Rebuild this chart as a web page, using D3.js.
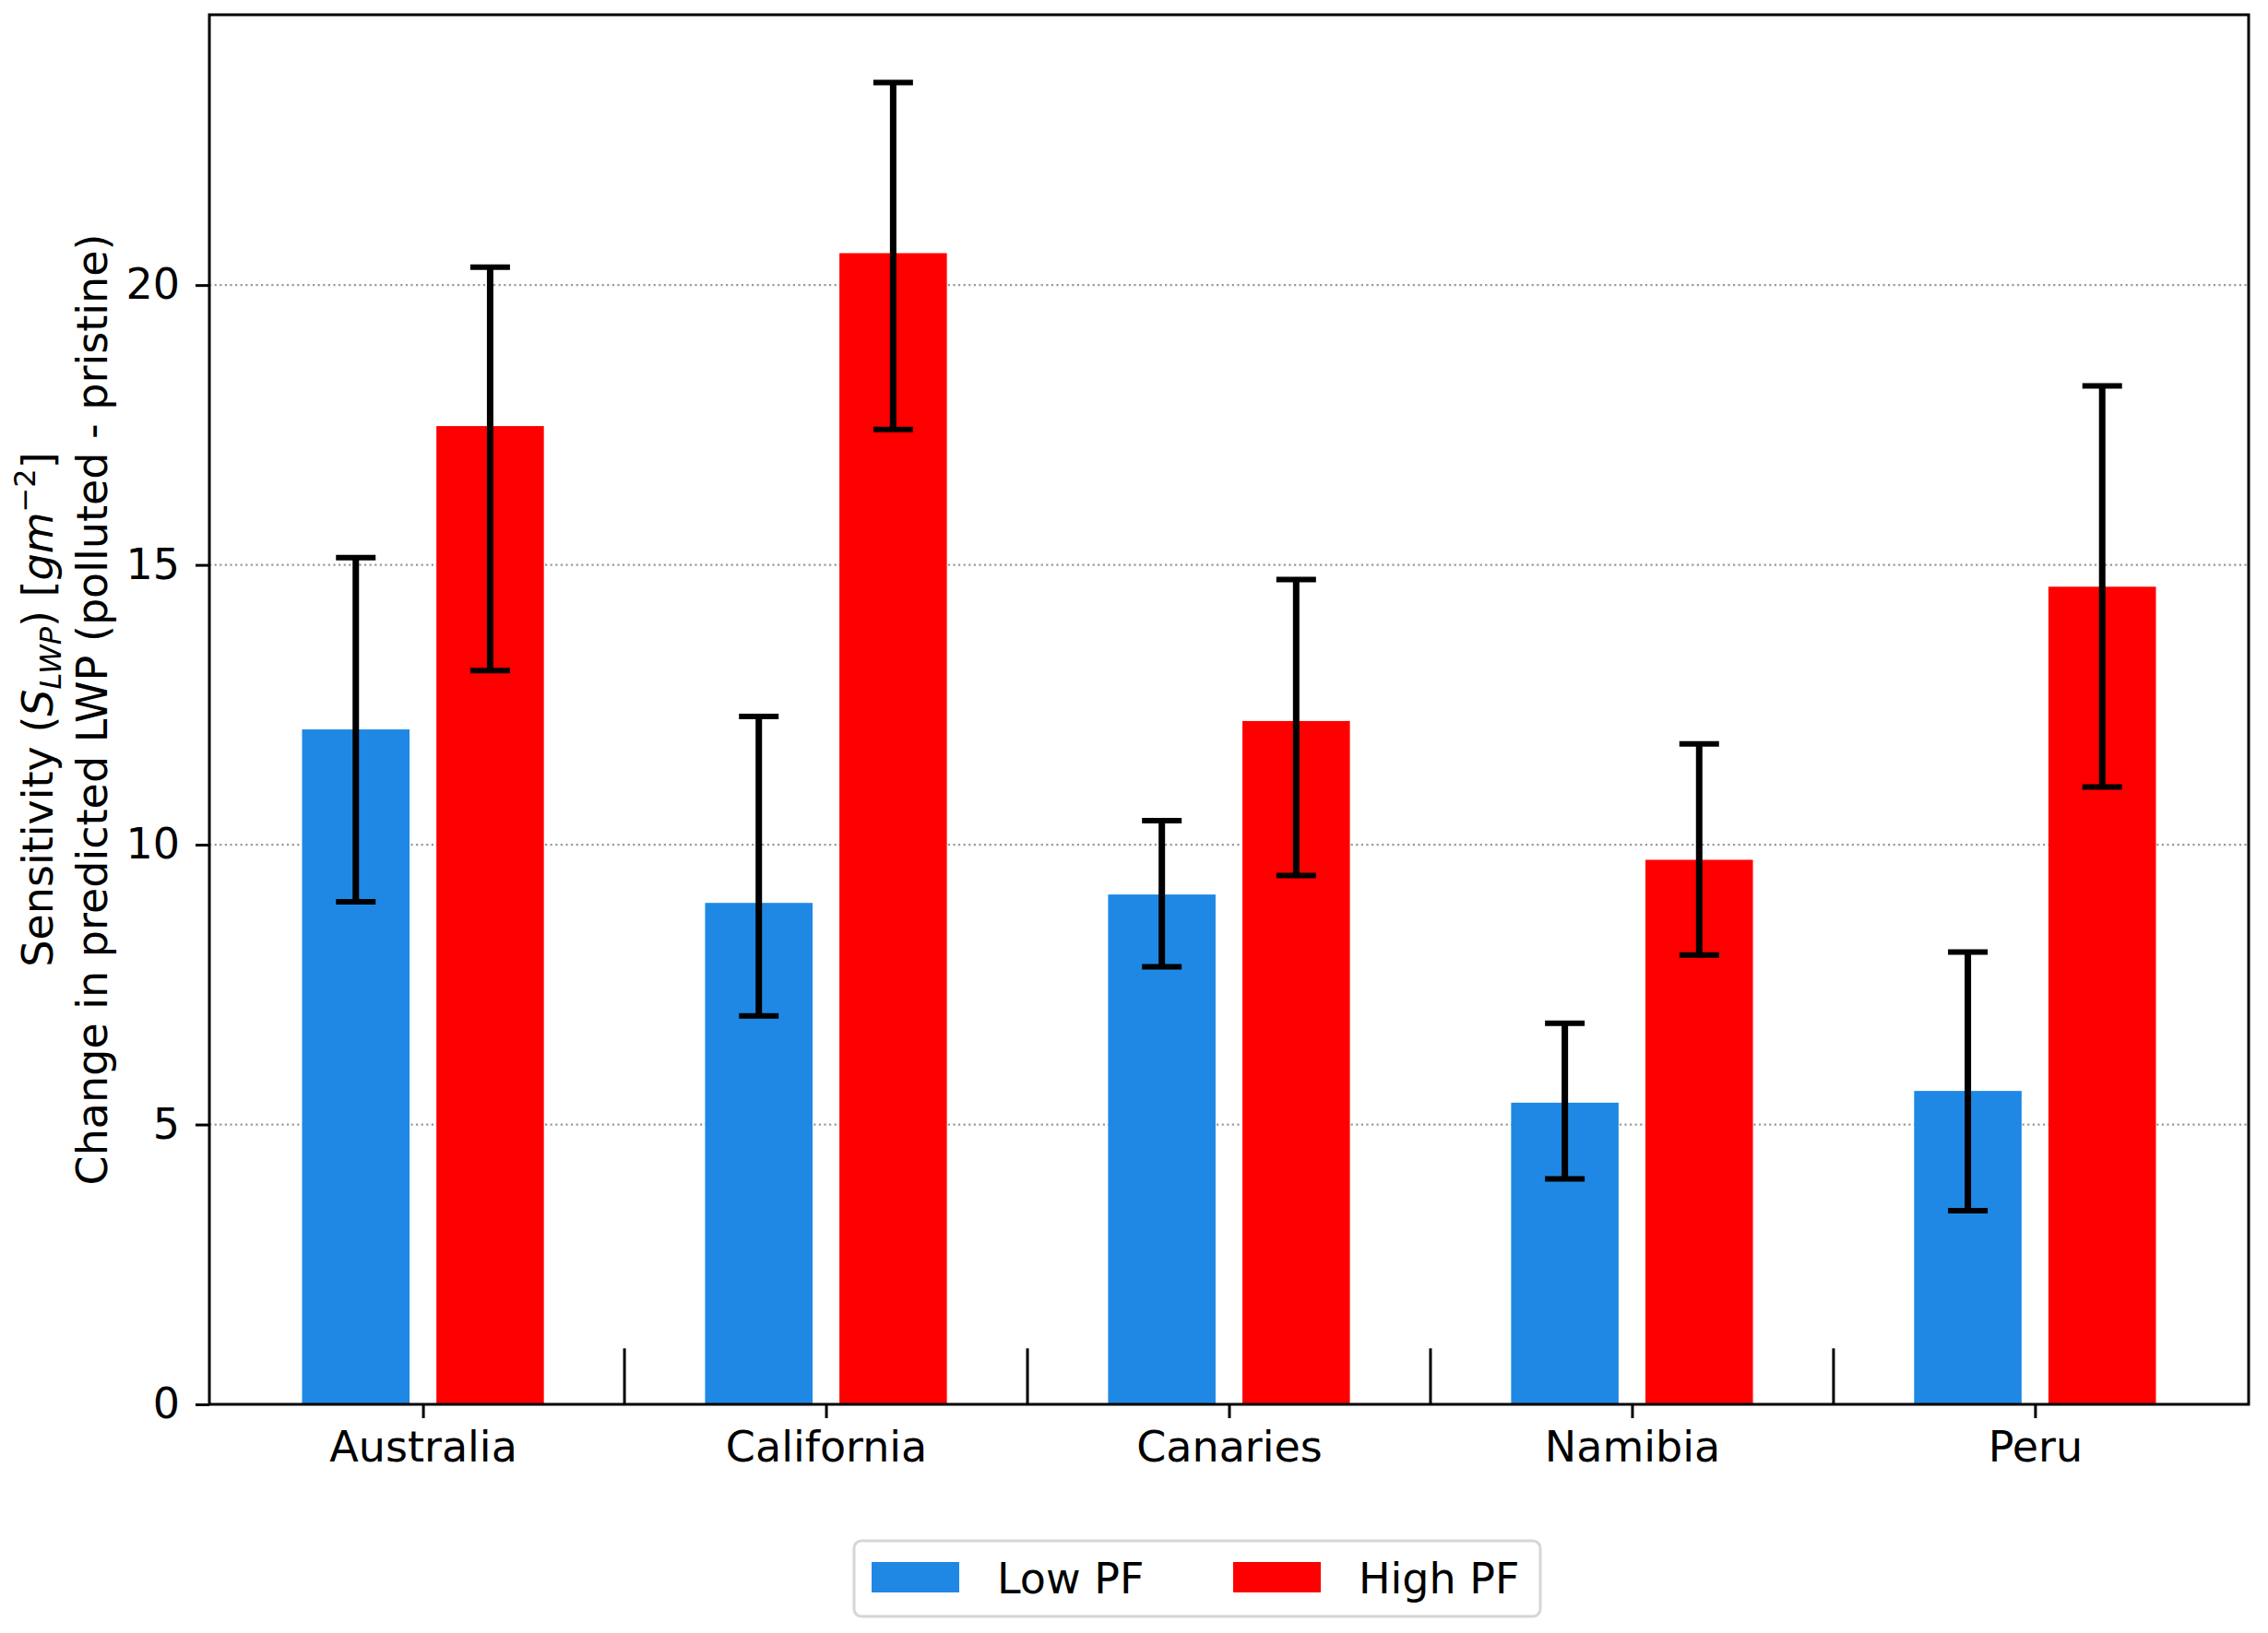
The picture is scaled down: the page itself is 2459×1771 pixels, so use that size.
<!DOCTYPE html>
<html>
<head>
<title>LWP sensitivity</title>
<script src="https://cdn.jsdelivr.net/npm/d3@7"></script>
<style>
  body { margin: 0; background: #fff; }
  svg text { font-family: "DejaVu Sans", sans-serif; fill: #000; }
</style>
</head>
<body>
<div id="chart"></div>
<script>
var regions = ['Australia', 'California', 'Canaries', 'Namibia', 'Peru'];
var series = ['Low PF', 'High PF'];
var colors = ['#1f88e4', '#ff0000'];

// bar heights
var lowPF  = [12.06, 8.96, 9.11, 5.39, 5.60];
var highPF = [17.48, 20.57, 12.21, 9.73, 14.61];
// error bar ends (lower, upper)
var lowLo  = [8.98, 6.94, 7.82, 4.03, 3.46];
var lowHi  = [15.13, 12.29, 10.43, 6.81, 8.08];
var highLo = [13.11, 17.42, 9.45, 8.03, 11.03];
var highHi = [20.32, 23.62, 14.74, 11.80, 18.20];

var yTicks = [0, 5, 10, 15, 20];

var width = 2459, height = 1771;
var plotL = 227, plotR = 2438, plotT = 16, plotB = 1523;

var svg = d3.select('#chart').append('svg')
    .attr('width', width)
    .attr('height', height);

var x = d3.scaleLinear().domain([-0.53, 4.53]).range([plotL, plotR]);
var y = d3.scaleLinear().domain([0, 24.83]).range([plotB, plotT]);

var barW = 0.8 / 3;
var offsets = [-1 / 6, 1 / 6];

// grid
svg.append('g').selectAll('line')
    .data(yTicks.filter(function(d) { return d > 0; }))
    .enter().append('line')
    .attr('x1', plotL).attr('x2', plotR)
    .attr('y1', function(d) { return y(d); })
    .attr('y2', function(d) { return y(d); })
    .attr('stroke', '#9a9a9a')
    .attr('stroke-width', 2.2)
    .attr('stroke-dasharray', '2.2,3.4');

var groups = [
  {vals: lowPF, lo: lowLo, hi: lowHi},
  {vals: highPF, lo: highLo, hi: highHi}
];

groups.forEach(function(g, si) {
    var rows = regions.map(function(r, i) {
        return {i: i, v: g.vals[i], lo: g.lo[i], hi: g.hi[i]};
    });
    var sg = svg.append('g');
    sg.selectAll('rect')
        .data(rows)
        .enter().append('rect')
        .attr('x', function(d) { return x(d.i + offsets[si] - barW / 2); })
        .attr('width', x(barW) - x(0))
        .attr('y', function(d) { return y(d.v); })
        .attr('height', function(d) { return y(0) - y(d.v); })
        .attr('fill', colors[si]);
});

// error bars on top of bars
groups.forEach(function(g, si) {
    var rows = regions.map(function(r, i) {
        return {i: i, lo: g.lo[i], hi: g.hi[i]};
    });
    var eg = svg.append('g').attr('stroke', '#000');
    eg.selectAll('line.stem')
        .data(rows)
        .enter().append('line')
        .attr('class', 'stem')
        .attr('x1', function(d) { return x(d.i + offsets[si]); })
        .attr('x2', function(d) { return x(d.i + offsets[si]); })
        .attr('y1', function(d) { return y(d.lo); })
        .attr('y2', function(d) { return y(d.hi); })
        .attr('stroke-width', 7);
    ['lo', 'hi'].forEach(function(k) {
        eg.selectAll('line.cap-' + k)
            .data(rows)
            .enter().append('line')
            .attr('class', 'cap-' + k)
            .attr('x1', function(d) { return x(d.i + offsets[si]) - 21.5; })
            .attr('x2', function(d) { return x(d.i + offsets[si]) + 21.5; })
            .attr('y1', function(d) { return y(d[k]); })
            .attr('y2', function(d) { return y(d[k]); })
            .attr('stroke-width', 6);
    });
});

// separators between regions
svg.append('g').selectAll('line')
    .data(d3.range(regions.length - 1))
    .enter().append('line')
    .attr('x1', function(d) { return x(d + 0.5); })
    .attr('x2', function(d) { return x(d + 0.5); })
    .attr('y1', y(0))
    .attr('y2', y(1))
    .attr('stroke', '#000')
    .attr('stroke-width', 3);

// axes
var yAxis = d3.axisLeft(y).tickValues(yTicks).tickSize(15).tickPadding(17);
var gy = svg.append('g').attr('transform', 'translate(' + plotL + ',0)').call(yAxis);
var xAxis = d3.axisBottom(x).tickValues(d3.range(regions.length))
    .tickFormat(function(i) { return regions[i]; })
    .tickSize(15).tickPadding(14);
var gx = svg.append('g').attr('transform', 'translate(0,' + plotB + ')').call(xAxis);

[gx, gy].forEach(function(g) {
    g.select('.domain').remove();
    g.selectAll('.tick line').attr('stroke', '#000').attr('stroke-width', 3);
    g.selectAll('.tick text')
        .attr('font-family', 'DejaVu Sans')
        .attr('font-size', 46)
        .attr('fill', '#000');
});

svg.append('rect')
    .attr('x', plotL).attr('y', plotT)
    .attr('width', plotR - plotL).attr('height', plotB - plotT)
    .attr('fill', 'none')
    .attr('stroke', '#000')
    .attr('stroke-width', 3);

// y label, two lines
var cy = (plotT + plotB) / 2;
var l1 = svg.append('text')
    .attr('transform', 'translate(57,' + cy + ') rotate(-90)')
    .attr('text-anchor', 'middle')
    .attr('font-size', 46);
l1.append('tspan').text('Sensitivity (');
l1.append('tspan').attr('font-style', 'italic').text('S');
l1.append('tspan').attr('font-style', 'italic').attr('font-size', 32)
    .attr('dy', 9).text('LWP');
l1.append('tspan').attr('dy', -9).text(') [');
l1.append('tspan').attr('font-style', 'italic').text('gm');
l1.append('tspan').attr('font-size', 32).attr('dy', -19).text('\u22122');
l1.append('tspan').attr('dy', 19).text(']');

svg.append('text')
    .attr('transform', 'translate(116,' + cy + ') rotate(-90)')
    .attr('text-anchor', 'middle')
    .attr('font-size', 46)
    .text('Change in predicted LWP (polluted - pristine)');

// legend
var leg = svg.append('g');
leg.append('rect')
    .attr('x', 926).attr('y', 1671)
    .attr('width', 744).attr('height', 82)
    .attr('rx', 8)
    .attr('fill', '#fff')
    .attr('stroke', '#d6d6d6')
    .attr('stroke-width', 3);
var legX = [945, 1337];
series.forEach(function(s, i) {
    leg.append('rect')
        .attr('x', legX[i]).attr('y', 1694)
        .attr('width', 95).attr('height', 33)
        .attr('fill', colors[i]);
    leg.append('text')
        .attr('x', legX[i] + 136).attr('y', 1728)
        .attr('font-size', 46)
        .text(s);
});
</script>
</body>
</html>
